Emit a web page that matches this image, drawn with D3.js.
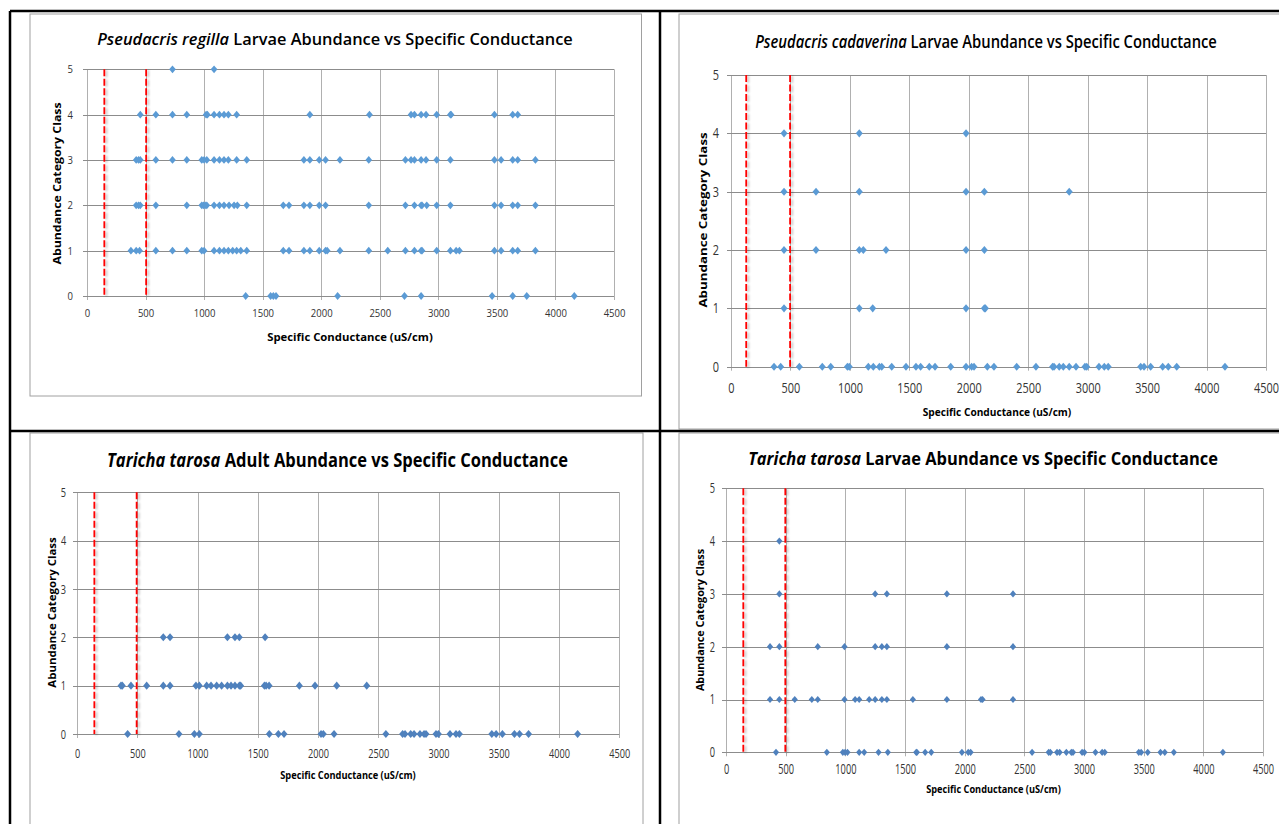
<!DOCTYPE html>
<html>
<head>
<meta charset="utf-8">
<script src="https://cdnjs.cloudflare.com/ajax/libs/d3/7.8.5/d3.min.js"></script>
<style>
  body { margin: 0; background: #fff; }
  svg text { font-family: "Open Sans", "Noto Sans", sans-serif; }
  .tick text { transform-box: fill-box; }
</style>
</head>
<body>
<div id="chart"></div>
<script>
// conductance (uS/cm) of each pond, grouped by abundance class
var xTickValues = [0, 500, 1000, 1500, 2000, 2500, 3000, 3500, 4000, 4500];
var yTickValues = [0, 1, 2, 3, 4, 5];

var regilla0 = [1355, 1568, 1591, 1614, 2140, 2711, 2853, 3459, 3635, 3755, 4161];
var regilla1 = [375, 420, 449, 588, 730, 852, 980, 1000, 1085, 1131, 1170, 1207, 1244, 1278, 1313, 1364, 1676, 1725, 1852, 1903, 1983, 2037, 2051, 2160, 2406, 2568, 2719, 2796, 2853, 2861, 2986, 3103, 3152, 3180, 3479, 3536, 3635, 3678, 3829];
var regilla2 = [420, 440, 455, 588, 852, 980, 994, 1009, 1023, 1085, 1131, 1170, 1213, 1256, 1284, 1364, 1676, 1725, 1852, 1903, 1983, 2037, 2406, 2719, 2796, 2853, 2861, 2901, 2986, 3103, 3479, 3536, 3635, 3678, 3829];
var regilla3 = [420, 440, 455, 588, 730, 852, 980, 1000, 1023, 1085, 1131, 1170, 1207, 1278, 1364, 1852, 1903, 1983, 2037, 2160, 2406, 2719, 2767, 2796, 2853, 2895, 2986, 3103, 3479, 3536, 3635, 3678, 3829];
var regilla4 = [455, 588, 730, 852, 1017, 1028, 1085, 1131, 1170, 1207, 1278, 1903, 2412, 2767, 2796, 2853, 2895, 2986, 3103, 3109, 3479, 3635, 3678];
var regilla5 = [730, 1085];
var regillaCut = [148, 505];

var cadaverina0 = [362, 418, 575, 768, 839, 979, 995, 1155, 1197, 1248, 1268, 1352, 1472, 1556, 1595, 1668, 1716, 1848, 1977, 2024, 2044, 2156, 2212, 2403, 2565, 2705, 2717, 2761, 2795, 2845, 2902, 2977, 2992, 3095, 3140, 3173, 3446, 3474, 3530, 3631, 3678, 3749, 4155];
var cadaverina1 = [446, 1079, 1192, 1977, 2131, 2140];
var cadaverina2 = [446, 715, 1079, 1113, 1304, 1977, 2131];
var cadaverina3 = [446, 715, 1079, 1977, 2131, 2845];
var cadaverina4 = [446, 1079, 1977];
var cadaverinaCut = [128, 497];

var adult0 = [420, 846, 974, 1015, 1596, 1671, 1718, 2025, 2044, 2133, 2563, 2702, 2722, 2769, 2797, 2846, 2880, 2896, 2979, 2999, 3095, 3145, 3173, 3442, 3478, 3530, 3630, 3672, 3747, 4154];
var adult1 = [365, 376, 448, 578, 716, 772, 987, 1015, 1076, 1112, 1159, 1200, 1248, 1278, 1311, 1347, 1358, 1555, 1569, 1594, 1845, 1975, 2155, 2404];
var adult2 = [716, 772, 1248, 1311, 1347, 1561];
var adultCut = [144, 495];

var larvae0 = [419, 845, 979, 998, 1018, 1116, 1158, 1278, 1356, 1594, 1600, 1669, 1720, 1977, 2030, 2050, 2565, 2704, 2718, 2774, 2796, 2852, 2894, 2908, 2984, 3003, 3096, 3152, 3174, 3459, 3479, 3534, 3641, 3677, 3753, 4164];
var larvae1 = [369, 447, 576, 719, 769, 993, 1082, 1116, 1200, 1250, 1306, 1348, 1566, 1851, 2137, 2150, 2405];
var larvae2 = [369, 447, 769, 993, 1250, 1306, 1348, 1851, 2405];
var larvae3 = [447, 1250, 1348, 1851, 2405];
var larvae4 = [447];
var larvaeCut = [145, 497];

var xLabel = "Specific Conductance (uS/cm)";
var yLabel = "Abundance Category Class";

var svg = d3.select("#chart").append("svg")
    .attr("width", 1279)
    .attr("height", 824);

// soft grey shadow to the right of the red lines
var defs = svg.append("defs");
defs.append("filter").attr("id", "shadow")
    .attr("filterUnits", "userSpaceOnUse")
    .attr("x", 0).attr("y", 0).attr("width", 1279).attr("height", 824)
  .append("feDropShadow")
    .attr("dx", 2).attr("dy", 1).attr("stdDeviation", 1)
    .attr("flood-color", "#000").attr("flood-opacity", 0.25);

// excel style diamond, a bit taller than wide
var diamond = {
  draw: function (context, size) {
    var r = Math.sqrt(size / 2);
    context.moveTo(0, -r * 1.08);
    context.lineTo(r * 0.93, 0);
    context.lineTo(0, r * 1.08);
    context.lineTo(-r * 0.93, 0);
    context.closePath();
  }
};

function rowsToPoints(rows) {
  var pts = [];
  rows.forEach(function (vals, cls) {
    vals.forEach(function (v) { pts.push({ sc: v, cls: cls }); });
  });
  return pts;
}

var panels = [
  { italic: "Pseudacris regilla", rest: " Larvae Abundance vs Specific Conductance",
    rows: [regilla0, regilla1, regilla2, regilla3, regilla4, regilla5], cut: regillaCut,
    frame: [30, 14, 641.5, 396], x0: 87, x1: 614, y0: 296, y5: 69.3,
    title: [335, 45, 476, 16.5, "600"], xt: [350, 337, 166], yt: [57, 183.5, 163],
    tickFont: 11.2, tickScale: 0.85, xPad: 9, yPad: 10, color: "#5b9bd5", msize: 26 },
  { italic: "Pseudacris cadaverina", rest: " Larvae Abundance vs Specific Conductance",
    rows: [cadaverina0, cadaverina1, cadaverina2, cadaverina3, cadaverina4], cut: cadaverinaCut,
    frame: [679, 14, 1290, 429], x0: 731, x1: 1266, y0: 366.7, y5: 75,
    title: [986, 48, 462, 18, "600"], xt: [997, 412.5, 149], yt: [702.7, 220, 176],
    tickFont: 14, tickScale: 0.78, xPad: 12, yPad: 8, color: "#5b9bd5", msize: 28 },
  { italic: "Taricha tarosa", rest: " Adult Abundance vs Specific Conductance",
    rows: [adult0, adult1, adult2], cut: adultCut,
    frame: [30, 433, 643, 830], x0: 77, x1: 619.3, y0: 734, y5: 492.3,
    title: [337.5, 467, 461, 19, "bold"], xt: [348, 775, 136], yt: [51.7, 612.5, 151],
    tickFont: 13.5, tickScale: 0.68, xPad: 10, yPad: 7, color: "#4f81bd", msize: 28 },
  { italic: "Taricha tarosa", rest: " Larvae Abundance vs Specific Conductance",
    rows: [larvae0, larvae1, larvae2, larvae3, larvae4], cut: larvaeCut,
    frame: [679, 433, 1290, 830], x0: 726, x1: 1263, y0: 752.3, y5: 488.3,
    title: [983, 465, 470, 18, "bold"], xt: [993.5, 789, 135], yt: [700.4, 620, 143],
    tickFont: 14, tickScale: 0.66, xPad: 8, yPad: 7, color: "#4f81bd", msize: 22 }
];

// squeeze a text horizontally until it has the wanted width
function fit(text, cx, cy, width, rotate) {
  var w = text.node().getBBox().width;
  var s = width / w;
  text.attr("transform", "translate(" + cx + "," + cy + ")" +
    (rotate ? " rotate(-90)" : "") + " scale(" + s + ",1)");
}

panels.forEach(function (p) {
  var g = svg.append("g");
  var x = d3.scaleLinear().domain([0, 4500]).range([p.x0, p.x1]);
  var y = d3.scaleLinear().domain([0, 5]).range([p.y0, p.y5]);

  g.append("rect")
    .attr("x", p.frame[0]).attr("y", p.frame[1])
    .attr("width", p.frame[2] - p.frame[0]).attr("height", p.frame[3] - p.frame[1])
    .attr("fill", "#fff").attr("stroke", "#a0a0a0").attr("stroke-width", 1);

  // gridlines
  g.selectAll(".vgrid").data(xTickValues).enter().append("line")
    .attr("x1", function (d) { return Math.round(x(d)) + 0.5; })
    .attr("x2", function (d) { return Math.round(x(d)) + 0.5; })
    .attr("y1", p.y5).attr("y2", p.y0 + 4)
    .attr("stroke", "#b0b0b0");
  g.selectAll(".hgrid").data(yTickValues).enter().append("line")
    .attr("x1", p.x0 - 4).attr("x2", p.x1)
    .attr("y1", function (d) { return Math.round(y(d)) + 0.5; })
    .attr("y2", function (d) { return Math.round(y(d)) + 0.5; })
    .attr("stroke", "#8c8c8c");

  // axes, only for the labels
  var xa = g.append("g").attr("transform", "translate(0," + p.y0 + ")")
    .call(d3.axisBottom(x).tickValues(xTickValues).tickFormat(d3.format("d"))
      .tickSize(4).tickPadding(p.xPad));
  var ya = g.append("g").attr("transform", "translate(" + p.x0 + ",0)")
    .call(d3.axisLeft(y).tickValues(yTickValues).tickFormat(d3.format("d"))
      .tickSize(4).tickPadding(p.yPad));
  [xa, ya].forEach(function (a) {
    a.select(".domain").remove();
    a.selectAll(".tick line").remove();
    a.selectAll("text")
      .attr("fill", "#333")
      .style("font-size", p.tickFont + "px")
      .style("transform", "scaleX(" + p.tickScale + ")");
  });
  xa.selectAll("text").style("transform-origin", "50% 50%");
  ya.selectAll("text").style("transform-origin", "100% 50%");

  // threshold lines
  g.selectAll(".cut").data(p.cut).enter().append("line")
    .attr("x1", function (d) { return x(d); })
    .attr("x2", function (d) { return x(d); })
    .attr("y1", y(5)).attr("y2", y(0))
    .attr("stroke", "#ff0000").attr("stroke-width", 1.8)
    .attr("stroke-dasharray", "7,2.5")
    .attr("filter", "url(#shadow)");

  // points
  g.selectAll(".pt").data(rowsToPoints(p.rows)).enter().append("path")
    .attr("d", d3.symbol().type(diamond).size(p.msize))
    .attr("transform", function (d) { return "translate(" + x(d.sc) + "," + y(d.cls) + ")"; })
    .attr("fill", p.color);

  // title
  var t = g.append("text").attr("text-anchor", "middle")
    .style("font-size", p.title[3] + "px").style("font-weight", p.title[4]).attr("fill", "#000");
  t.append("tspan").style("font-style", "italic").text(p.italic);
  t.append("tspan").text(p.rest);
  fit(t, p.title[0], p.title[1], p.title[2], false);

  var xt = g.append("text").attr("text-anchor", "middle").attr("dy", "0.35em")
    .style("font-size", "11px").style("font-weight", "bold").text(xLabel);
  fit(xt, p.xt[0], p.xt[1], p.xt[2], false);
  var yt = g.append("text").attr("text-anchor", "middle").attr("dy", "0.35em")
    .style("font-size", "11px").style("font-weight", "bold").text(yLabel);
  fit(yt, p.yt[0], p.yt[1], p.yt[2], true);
});

// black outline of the table the four charts sit in
var border = [
  [10, 11, 10, 824], [660, 11, 660, 824],
  [10, 11, 1279, 11], [10, 431, 1279, 431]
];
svg.selectAll(".border").data(border).enter().append("line")
  .attr("x1", function (d) { return d[0]; }).attr("y1", function (d) { return d[1]; })
  .attr("x2", function (d) { return d[2]; }).attr("y2", function (d) { return d[3]; })
  .attr("stroke", "#000").attr("stroke-width", 2.5);
</script>
</body>
</html>
